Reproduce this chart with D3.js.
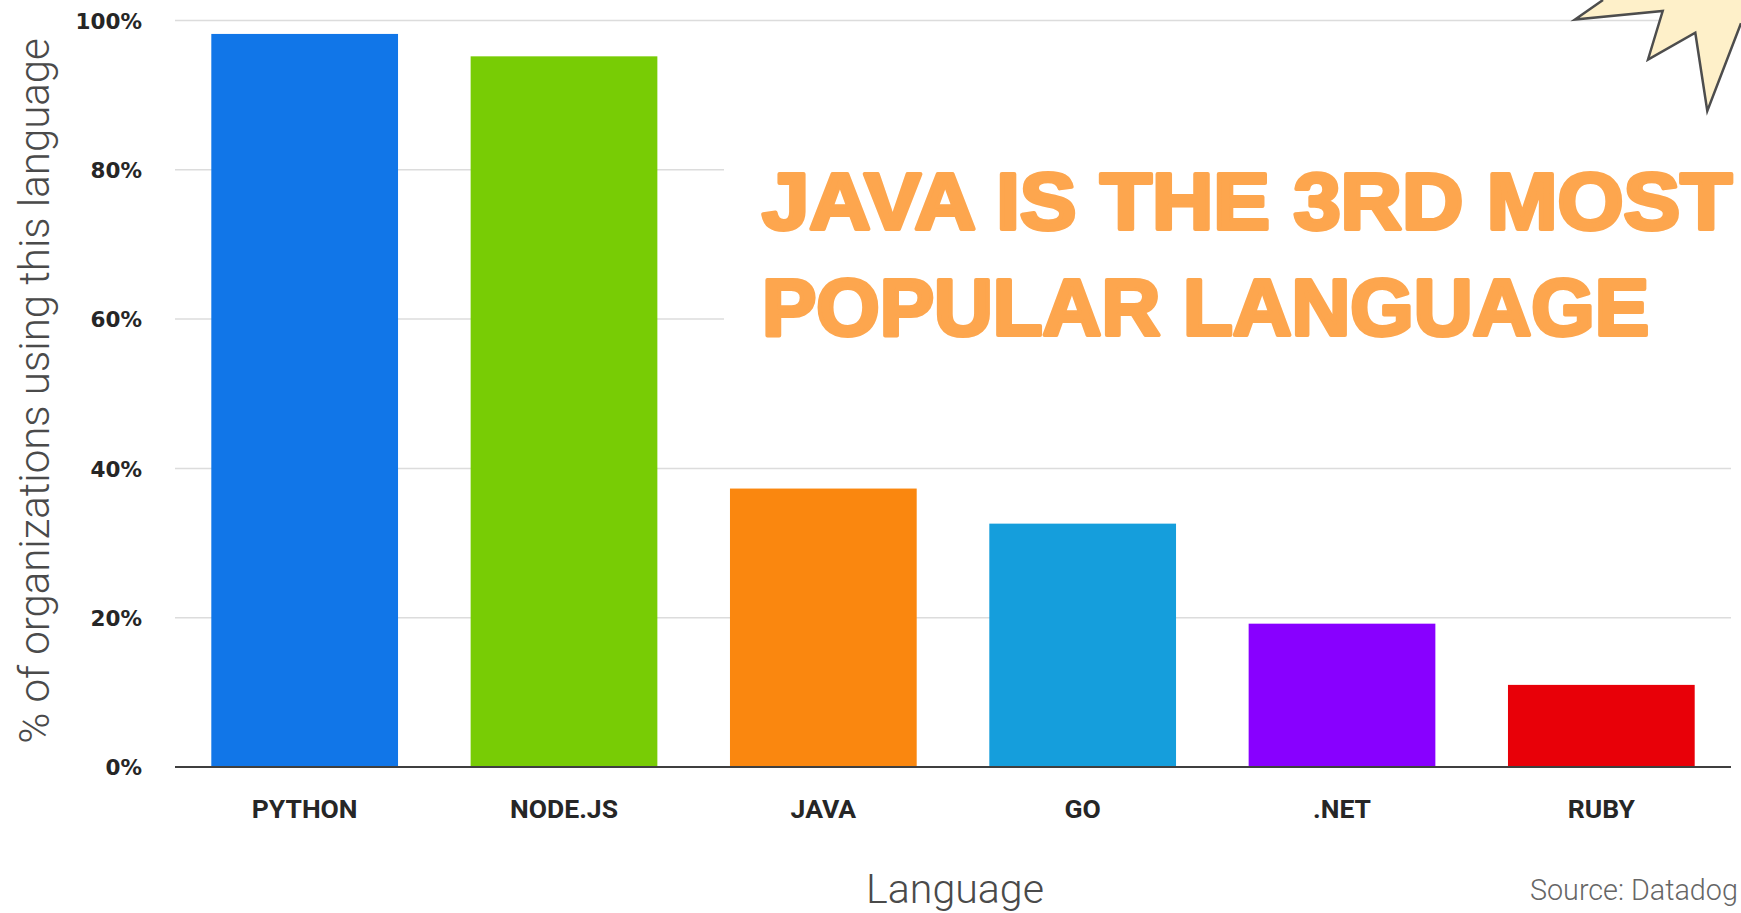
<!DOCTYPE html>
<html>
<head>
<meta charset="utf-8">
<script src="https://cdn.jsdelivr.net/npm/d3@7"></script>
<style>
html,body{margin:0;padding:0;background:#fff;overflow:hidden;}
svg{display:block;}
</style>
</head>
<body>
<svg id="chart" width="1741" height="913"></svg>
<script>
const categories = ["PYTHON", "NODE.JS", "JAVA", "GO", ".NET", "RUBY"];
const values = [98.2, 95.2, 37.3, 32.6, 19.2, 11.0];
const barColors = ["#1176E8", "#78CC05", "#FA870F", "#159EDC", "#8800FF", "#E80008"];
const tickValues = [0, 20, 40, 60, 80, 100];
const tickLabels = ["0%", "20%", "40%", "60%", "80%", "100%"];
const yTitle = "% of organizations using this language";
const xTitle = "Language";
const sourceText = "Source: Datadog";
const annotationLines = ["JAVA IS THE 3RD MOST", "POPULAR LANGUAGE"];

(function () {
const W = 1741, H = 913;
const svg = d3.select("#chart");
const pLeft = 175, pRight = 1731, pTop = 20.5, pBottom = 767;

const x = d3.scaleBand().domain(categories).range([pLeft, pRight]).paddingInner(0.28).paddingOuter(0.14);
const y = d3.scaleLinear().domain([0, 100]).range([pBottom, pTop]);

// gridlines
svg.append("g").selectAll("line").data(tickValues.filter(v => v > 0)).join("line")
  .attr("x1", pLeft).attr("x2", pRight)
  .attr("y1", d => y(d)).attr("y2", d => y(d))
  .attr("stroke", "#dcdcdc").attr("stroke-width", 1.5);

// bars
svg.append("g").selectAll("rect").data(categories).join("rect")
  .attr("x", d => x(d)).attr("width", x.bandwidth())
  .attr("y", (d, i) => y(values[i])).attr("height", (d, i) => y(0) - y(values[i]))
  .attr("fill", (d, i) => barColors[i]);

// axis line
svg.append("line").attr("x1", pLeft).attr("x2", pRight).attr("y1", y(0)).attr("y2", y(0))
  .attr("stroke", "#3f3f3f").attr("stroke-width", 2);

// y tick labels via axis
const yAxis = d3.axisLeft(y).tickValues(tickValues).tickFormat((d, i) => tickLabels[i]).tickSize(0).tickPadding(0);
const gy = svg.append("g").attr("transform", "translate(142,0)").call(yAxis);
gy.select(".domain").remove();
gy.selectAll("text").attr("font-family", "'DejaVu Sans', sans-serif").attr("font-weight", "bold")
  .attr("font-size", 21.5).attr("fill", "#262626").attr("dy", "0.36em").attr("x", 0);

// x tick labels via axis
const xAxis = d3.axisBottom(x).tickSize(0).tickPadding(0);
const gx = svg.append("g").call(xAxis);
gx.select(".domain").remove();
gx.selectAll("text").attr("font-family", "Roboto, 'Liberation Sans', sans-serif").attr("font-weight", "bold")
  .attr("font-size", 26.5).attr("fill", "#262626").attr("y", 818).attr("dy", 0);

function fitText(sel, target) {
  const len = sel.node().getComputedTextLength();
  const fs = parseFloat(sel.attr("font-size"));
  if (len > 0) sel.attr("font-size", fs * target / len);
}

// y title
const yt = svg.append("text").attr("transform", "translate(49,391) rotate(-90)")
  .attr("text-anchor", "middle").attr("font-family", "Roboto, 'Open Sans', sans-serif").attr("font-weight", 300)
  .attr("font-size", 36).attr("fill", "#4a4a4a").text(yTitle);
fitText(yt, 706);

// x title
const xt = svg.append("text").attr("x", 955).attr("y", 903).attr("text-anchor", "middle")
  .attr("font-family", "Roboto, 'Open Sans', sans-serif").attr("font-weight", 300)
  .attr("font-size", 36).attr("fill", "#4a4a4a").text(xTitle);
fitText(xt, 178);

// source
const st = svg.append("text").attr("x", 1530).attr("y", 900).attr("text-anchor", "start")
  .attr("font-family", "Roboto, 'Open Sans', sans-serif").attr("font-weight", 300)
  .attr("font-size", 30).attr("fill", "#666").text(sourceText);
fitText(st, 208);

// annotation white box
svg.append("rect").attr("x", 724).attr("y", 60).attr("width", W - 724).attr("height", 340).attr("fill", "#fff");

const annWidths = [970, 887];
const annBaselines = [229, 335];
annotationLines.forEach((t, i) => {
  svg.append("text").attr("x", 762).attr("y", annBaselines[i])
    .attr("font-family", "'Liberation Sans', Arial, sans-serif").attr("font-weight", "bold")
    .attr("font-size", 80).attr("fill", "#FDA64E").attr("stroke", "#FDA64E").attr("stroke-width", 4)
    .attr("stroke-linejoin", "round")
    .attr("textLength", annWidths[i]).attr("lengthAdjust", "spacingAndGlyphs").text(t);
});

// decorative star (top right)
const starPts = [[1603, 0], [1575, 19.5], [1662.7, 11], [1648, 59.5], [1695.3, 32.7], [1707.3, 111], [1741, 23.3]];
svg.append("path").attr("d", d3.line()(starPts.concat([[1741, 0]])) + "Z").attr("fill", "#FEF0C9").attr("stroke", "none");
svg.append("path").attr("d", d3.line()(starPts)).attr("fill", "none").attr("stroke", "#4d4d4d")
  .attr("stroke-width", 2.5).attr("stroke-linejoin", "miter");
})();
</script>
</body>
</html>
